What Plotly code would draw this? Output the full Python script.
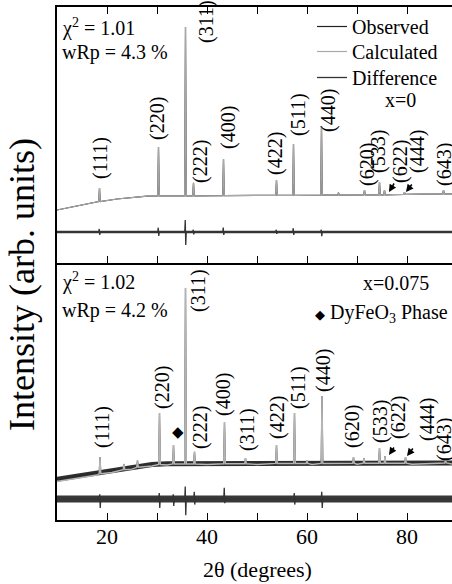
import plotly.graph_objects as go

FONT = "Liberation Serif"

# ---------------- data ----------------
# top panel (x = 0)
top_bg_x = [10, 14, 18, 22, 26, 28, 32, 40, 50, 60, 70, 80, 89]
top_bg_y = [20.7, 22.2, 23.8, 25.0, 25.8, 26.1, 26.2, 26.3, 26.4, 26.5, 26.6, 26.8, 27.0]
top_peak_pos = [18.5, 30.3, 35.7, 37.3, 43.3, 53.9, 57.3, 62.9, 66.3, 71.5, 74.5, 75.5, 79.5, 87.3]
top_peak_top = [29.3, 45.3, 92.2, 31.3, 40.6, 32.4, 46.5, 53.5, 27.5, 28.5, 31.6, 28.5, 27.7, 28.5]
top_peak_base = [24.0, 26.2, 26.2, 26.2, 26.3, 26.4, 26.4, 26.5, 26.5, 26.6, 26.6, 26.6, 26.8, 27.0]
top_diff_x = [10, 89]
top_diff_y = [12.1, 12.1]
top_diff_pos = [18.5, 30.3, 35.7, 37.3, 43.3, 53.9, 57.3, 62.9]
top_diff_up = [13.3, 13.8, 16.8, 13.0, 13.8, 13.0, 13.6, 13.0]
top_diff_down = [11.0, 10.6, 7.0, 11.2, 11.0, 11.4, 11.0, 10.5]

# bottom panel (x = 0.075)
bot_bg_x = [10, 14, 18, 21, 25, 29, 32, 40, 50, 61, 70, 81, 89]
bot_obs_bg_y = [15.8, 17.0, 18.3, 19.3, 20.6, 21.6, 21.9, 22.0, 22.0, 22.0, 22.1, 22.1, 22.2]
bot_calc_bg_y = [15.0, 16.2, 17.5, 18.5, 19.8, 21.0, 21.4, 21.6, 21.6, 21.6, 21.7, 21.7, 21.8]
bot_peak_pos = [18.6, 23.4, 26.1, 30.5, 33.3, 35.7, 37.5, 43.5, 47.7, 53.9, 57.5, 60.0,
                63.0, 69.3, 71.4, 74.5, 75.6, 79.7, 87.7]
bot_peak_top = [24.5, 21.8, 23.1, 41.6, 29.2, 90.3, 26.5, 38.1, 24.1, 29.2, 41.6, 23.3,
                48.2, 24.5, 24.1, 28.0, 24.9, 24.5, 23.7]
bot_peak_base = [18.0, 19.6, 20.5, 21.6, 21.8, 21.8, 21.8, 21.9, 21.9, 22.0, 22.0, 22.0,
                 22.0, 22.1, 22.1, 22.1, 22.1, 22.1, 22.2]
bot_diff_x = [10, 89]
bot_diff_y = [8.2, 8.2]
bot_diff_pos = [18.6, 30.5, 33.3, 35.7, 37.5, 43.5, 57.5, 63.0]
bot_diff_up = [10.0, 10.5, 10.0, 13.0, 11.0, 12.5, 10.5, 11.0]
bot_diff_down = [4.7, 4.7, 5.5, 1.9, 6.0, 6.5, 6.0, 4.7]

x_tick_vals = [20, 30, 40, 50, 60, 70, 80]
x_tick_text = ["20", "", "40", "", "60", "", "80"]

top_hkl = ["(111)", "(220)", "(311)", "(222)", "(400)", "(422)", "(511)", "(440)",
           "(620)", "(533)", "(622)", "(444)", "(643)"]
bot_hkl = ["(111)", "(220)", "(311)", "(222)", "(400)", "(311)", "(422)", "(511)", "(440)",
           "(620)", "(533)", "(622)", "(444)", "(643)"]

# ---------------- layout helpers (pixel placement of text) ----------------
L, R, T, B = 57, 452, 7, 520
W, H = 452, 584


def px(xp):
    return (xp - L) / (R - L)


def py(yp):
    return (B - yp) / (B - T)


HALF = 0.16


def profile(bg_x, bg_y, pos, top, base):
    pts = [(x, y) for x, y in zip(bg_x, bg_y)
           if all(abs(x - p) > HALF for p in pos)]
    for p, t, b in zip(pos, top, base):
        pts += [(p - HALF, b), (p, t), (p + HALF, b)]
    pts.sort()
    return [p[0] for p in pts], [p[1] for p in pts]


def diff_profile(dx, dy, pos, up, down):
    base = dy[0]
    pts = list(zip(dx, dy))
    for p, u, d in zip(pos, up, down):
        pts += [(p - 0.15, base), (p - 0.05, u), (p + 0.05, d), (p + 0.15, base)]
    pts.sort()
    return [p[0] for p in pts], [p[1] for p in pts]


fig = go.Figure()

# top panel
tx, ty = profile(top_bg_x, top_bg_y, top_peak_pos, top_peak_top, top_peak_base)
fig.add_trace(go.Scatter(x=tx, y=ty, mode="lines", name="Observed", legend="legend",
                         line=dict(color="#222222", width=1.2), xaxis="x2", yaxis="y2"))
fig.add_trace(go.Scatter(x=tx, y=ty, mode="lines", name="Calculated", legend="legend2",
                         line=dict(color="#a8a8a8", width=1.2), xaxis="x2", yaxis="y2"))
fig.add_trace(go.Scatter(x=top_diff_x, y=top_diff_y, mode="lines", showlegend=False,
                         line=dict(color="#3a3a3a", width=2.4), xaxis="x2", yaxis="y2"))
dx, dy = diff_profile(top_diff_x, top_diff_y, top_diff_pos, top_diff_up, top_diff_down)
fig.add_trace(go.Scatter(x=dx, y=dy, mode="lines", name="Difference", legend="legend3",
                         line=dict(color="#333333", width=1.3), xaxis="x2", yaxis="y2"))

# bottom panel
fig.add_trace(go.Scatter(x=bot_bg_x, y=bot_obs_bg_y, mode="lines", showlegend=False,
                         line=dict(color="#2e2e2e", width=5), xaxis="x", yaxis="y"))
bx, by = profile(bot_bg_x, bot_obs_bg_y, bot_peak_pos, bot_peak_top, bot_peak_base)
fig.add_trace(go.Scatter(x=bx, y=by, mode="lines", showlegend=False,
                         line=dict(color="#2a2a2a", width=1.2), xaxis="x", yaxis="y"))
cx, cy = profile(bot_bg_x, bot_calc_bg_y, bot_peak_pos, bot_peak_top, bot_peak_base)
fig.add_trace(go.Scatter(x=cx, y=cy, mode="lines", showlegend=False,
                         line=dict(color="#b4b4b4", width=1.4), xaxis="x", yaxis="y"))
fig.add_trace(go.Scatter(x=bot_diff_x, y=bot_diff_y, mode="lines", showlegend=False,
                         line=dict(color="#383838", width=7), xaxis="x", yaxis="y"))
ex, ey = diff_profile(bot_diff_x, bot_diff_y, bot_diff_pos, bot_diff_up, bot_diff_down)
fig.add_trace(go.Scatter(x=ex, y=ey, mode="lines", showlegend=False,
                         line=dict(color="#333333", width=1.3), xaxis="x", yaxis="y"))

ann = []
lab_font = dict(family=FONT, size=20, color="black")

top_lab_px = [(100, 158), (157, 119), (206, 22), (200, 162), (228, 128), (275, 154),
              (298, 115), (328, 111), (367, 165), (378, 152), (400, 162), (417, 152), (444, 165)]
for t, (xp, yp) in zip(top_hkl, top_lab_px):
    ann.append(dict(text=t, x=px(xp), y=py(yp), xref="paper", yref="paper", showarrow=False,
                    textangle=-90, xanchor="center", yanchor="middle", font=lab_font))

bot_lab_px = [(102, 427), (162, 388), (198, 291), (200, 428), (223, 395), (247, 430), (277, 418),
              (298, 388), (323, 371), (352, 427), (380, 422), (398, 418), (427, 420), (444, 440)]
for t, (xp, yp) in zip(bot_hkl, bot_lab_px):
    ann.append(dict(text=t, x=px(xp), y=py(yp), xref="paper", yref="paper", showarrow=False,
                    textangle=-90, xanchor="center", yanchor="middle", font=lab_font))

# arrows
for (hx, hy, tx_, ty_) in [(389, 192, 395, 182), (406, 192, 413, 183),
                           (389, 455, 395, 446), (407, 456, 414, 447)]:
    ann.append(dict(text="", x=px(hx), y=py(hy), xref="paper", yref="paper",
                    ax=tx_ - hx, ay=ty_ - hy, showarrow=True, arrowhead=2,
                    arrowsize=1.0, arrowwidth=1.5, arrowcolor="black"))

txt_font = dict(family=FONT, size=20, color="black")
ann += [
    dict(text="χ<sup>2</sup> = 1.01", x=px(60), y=py(27), xanchor="left", yanchor="middle"),
    dict(text="wRp = 4.3 %", x=px(60), y=py(52), xanchor="left", yanchor="middle"),
    dict(text="x=0", x=px(400), y=py(100), xanchor="center", yanchor="middle"),
    dict(text="χ<sup>2</sup> = 1.02", x=px(60), y=py(281), xanchor="left", yanchor="middle"),
    dict(text="wRp = 4.2 %", x=px(60), y=py(310), xanchor="left", yanchor="middle"),
    dict(text="x=0.075", x=px(431), y=py(283), xanchor="right", yanchor="middle"),
    dict(text="<span style='font-size:13px'>◆</span> DyFeO<sub>3</sub> Phase", x=px(450),
         y=py(313), xanchor="right", yanchor="middle"),
    dict(text="<span style='font-size:15px'>◆</span>", x=px(178), y=py(432),
         xanchor="center", yanchor="middle"),
]
for a in ann[-8:]:
    a.update(xref="paper", yref="paper", showarrow=False, font=txt_font)

ann.append(dict(text="Intensity (arb. units)", x=px(22), y=py(285), xref="paper", yref="paper",
                showarrow=False, textangle=-90, xanchor="center", yanchor="middle",
                font=dict(family=FONT, size=36, color="black")))
ann.append(dict(text="2θ (degrees)", x=px(257), y=py(569), xref="paper", yref="paper",
                showarrow=False, xanchor="center", yanchor="middle",
                font=dict(family=FONT, size=22, color="black")))

split = py(263)
axis_common = dict(range=[10, 89], tickvals=x_tick_vals, ticktext=x_tick_text, ticks="inside",
                   ticklen=7, tickwidth=1.3, tickcolor="black", showline=True, linecolor="black",
                   linewidth=1.6, showgrid=False, zeroline=False)
leg_common = dict(x=px(312), xanchor="left", yanchor="top", bgcolor="rgba(0,0,0,0)",
                  font=dict(family=FONT, size=20, color="black"))
fig.update_layout(
    width=W, height=H,
    margin=dict(l=L, r=W - R, t=T, b=H - B),
    paper_bgcolor="white", plot_bgcolor="white",
    font=dict(family=FONT, color="black"),
    showlegend=True,
    xaxis=dict(**axis_common, anchor="y", domain=[0, 1], ticklabelstandoff=-4,
               tickfont=dict(family=FONT, size=22, color="black")),
    xaxis2=dict(**axis_common, anchor="y2", domain=[0, 1], matches="x",
                showticklabels=False, mirror="ticks"),
    yaxis=dict(domain=[0, split], range=[0, 100], showticklabels=False, ticks="",
               showline=True, linecolor="black", linewidth=1.6, showgrid=False, zeroline=False),
    yaxis2=dict(domain=[split, 1], range=[0, 100], showticklabels=False, ticks="",
                showline=True, linecolor="black", linewidth=1.6, showgrid=False, zeroline=False),
    legend=dict(**leg_common, y=py(7)),
    legend2=dict(**leg_common, y=py(32)),
    legend3=dict(**leg_common, y=py(58)),
    annotations=ann,
)

fig.write_html("out.html")
